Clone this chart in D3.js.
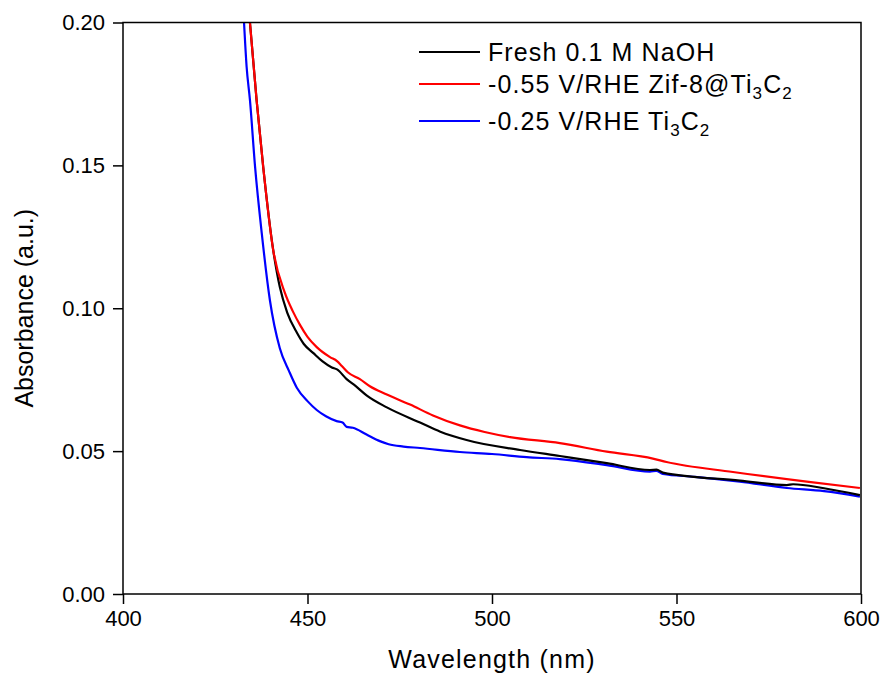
<!DOCTYPE html>
<html>
<head>
    <meta charset="utf-8">
    <style>
        body { margin: 0; background: white; }
        svg { font-family: 'Liberation Sans', Arial, sans-serif; }
        .axis .domain { display: none; }
        .axis .tick line { stroke: #000; stroke-width: 1.5px; }
        .axis .tick text { font-size: 22px; fill: #000; }
    </style>
</head>
<body>
<svg width="884" height="678"></svg>
<script src="https://d3js.org/d3.v7.min.js"></script>
<script>
    // ticks
    let xTicks = [400, 450, 500, 550, 600]
    let yTicks = [0.00, 0.05, 0.10, 0.15, 0.20]

    // Fresh 0.1 M NaOH (black)
    let blackWl = [434.4, 436.2, 438.0, 440.7, 442.5, 444.5, 447.1, 449, 451.6, 454, 456.6, 458.0, 460.6, 463, 466.0, 471.5, 480.5, 486, 493.1, 507.6, 518.4, 531.1, 542.8, 544.6, 546.3, 567.2, 579.9, 581.6, 590, 599.7]
    let blackAbs = [0.200, 0.1729, 0.1494, 0.1204, 0.1074, 0.0985, 0.0915, 0.0875, 0.0843, 0.0815, 0.0793, 0.0786, 0.0752, 0.0728, 0.0695, 0.0653, 0.0600, 0.0568, 0.0539, 0.0504, 0.0483, 0.0458, 0.0434, 0.0435, 0.0425, 0.0397, 0.0381, 0.0384, 0.0370, 0.0346]

    // -0.55 V/RHE Zif-8@Ti3C2 (red)
    let redWl = [434.4, 436.2, 438.0, 440.7, 443.9, 446, 448.0, 450, 452.5, 456.1, 458.0, 459.3, 461, 464.2, 466.9, 471.5, 477.8, 484, 491.3, 498, 504.9, 518.4, 531.1, 543.6, 547.3, 565.3, 585.3, 599.7]
    let redAbs = [0.200, 0.1729, 0.1494, 0.1204, 0.1053, 0.0990, 0.0941, 0.0900, 0.0864, 0.0829, 0.0815, 0.0798, 0.0775, 0.0752, 0.0727, 0.0698, 0.0663, 0.0625, 0.0590, 0.0567, 0.0549, 0.0528, 0.0498, 0.0474, 0.0462, 0.0427, 0.0393, 0.0371]

    // -0.25 V/RHE Ti3C2 (blue)
    let blueWl = [432.8, 433.5, 434.4, 435.8, 437.6, 439.8, 442.5, 445, 447.1, 450, 452.5, 455, 457.9, 459.5, 460.6, 462.3, 466.0, 469.6, 472, 476, 480.5, 491.3, 500, 509.4, 518.4, 531.1, 542.8, 544.5, 546.3, 555, 567.2, 579.9, 590, 599.7]
    let blueAbs = [0.200, 0.1845, 0.1729, 0.1494, 0.1263, 0.1029, 0.0860, 0.0780, 0.0722, 0.0675, 0.0644, 0.0622, 0.0605, 0.0600, 0.0585, 0.0582, 0.0558, 0.0535, 0.0524, 0.0516, 0.0511, 0.0497, 0.0490, 0.0479, 0.0472, 0.0451, 0.0428, 0.0431, 0.0420, 0.0410, 0.0393, 0.0371, 0.0360, 0.0341]

    let seriesNames = ["Fresh 0.1 M NaOH", "-0.55 V/RHE Zif-8@Ti3C2", "-0.25 V/RHE Ti3C2"]
    let seriesColors = ["#000000", "#ff0000", "#0000ff"]

    let series = [
        { name: seriesNames[0], color: seriesColors[0], wl: blackWl, abs: blackAbs },
        { name: seriesNames[1], color: seriesColors[1], wl: redWl, abs: redAbs },
        { name: seriesNames[2], color: seriesColors[2], wl: blueWl, abs: blueAbs }
    ]

    let margin = { top: 22.5, right: 23, bottom: 84, left: 123 }
    let width = 884, height = 678

    let svg = d3.select("svg")

    let x = d3.scaleLinear()
        .domain([400, 600])
        .range([margin.left, width - margin.right])

    let y = d3.scaleLinear()
        .domain([0, 0.20])
        .range([height - margin.bottom, margin.top])

    svg.append("clipPath").attr("id", "clip")
        .append("rect")
        .attr("x", x(400)).attr("y", y(0.20))
        .attr("width", x(600) - x(400)).attr("height", y(0) - y(0.20))

    // axes
    svg.append("g")
        .attr("class", "x axis")
        .attr("transform", `translate(0,${y(0)})`)
        .call(d3.axisBottom(x).tickValues(xTicks).tickSize(10).tickSizeOuter(0).tickPadding(6))

    svg.append("g")
        .attr("class", "y axis")
        .attr("transform", `translate(${x(400)},0)`)
        .call(d3.axisLeft(y).tickValues(yTicks).tickSize(10).tickSizeOuter(0).tickPadding(8).tickFormat(d3.format(".2f")))

    let line = d3.line()
        .x(d => x(d[0]))
        .y(d => y(d[1]))
        .curve(d3.curveMonotoneX)

    // draw blue first so black/red sit on top like the original
    svg.append("g")
        .attr("clip-path", "url(#clip)")
        .selectAll("path")
        .data([series[2], series[0], series[1]])
        .join("path")
        .attr("fill", "none")
        .attr("stroke", d => d.color)
        .attr("stroke-width", 2.2)
        .attr("d", d => line(d3.zip(d.wl, d.abs)))

    // frame
    svg.append("rect")
        .attr("x", x(400)).attr("y", y(0.20))
        .attr("width", x(600) - x(400)).attr("height", y(0) - y(0.20))
        .attr("fill", "none")
        .attr("stroke", "#000")
        .attr("stroke-width", 1.5)

    // axis titles
    svg.append("text").text("Wavelength (nm)")
        .attr("x", (x(400) + x(600)) / 2)
        .attr("y", 668)
        .attr("text-anchor", "middle")
        .attr("font-size", "25px")
        .attr("letter-spacing", "1.2px")

    svg.append("text").text("Absorbance (a.u.)")
        .attr("transform", `translate(33,${(y(0) + y(0.2)) / 2}) rotate(-90)`)
        .attr("text-anchor", "middle")
        .attr("font-size", "25px")

    // legend
    let legendY = [61, 93, 130]
    let legend = svg.append("g")
    series.forEach(function (s, i) {
        legend.append("line")
            .attr("x1", 419).attr("x2", 480)
            .attr("y1", legendY[i] - 9).attr("y2", legendY[i] - 9)
            .attr("stroke", s.color)
            .attr("stroke-width", 2.2)

        let t = legend.append("text")
            .attr("x", 488)
            .attr("y", legendY[i])
            .attr("font-size", "25px")
            .attr("letter-spacing", "1.1px")

        // split Ti3C2 into subscripts
        let m = s.name.match(/^(.*Ti)3C2$/)
        if (m) {
            t.append("tspan").text(m[1])
            t.append("tspan").text("3").attr("font-size", "17px").attr("dy", 6)
            t.append("tspan").text("C").attr("dy", -6)
            t.append("tspan").text("2").attr("font-size", "17px").attr("dy", 6)
        } else {
            t.text(s.name)
        }
    })
</script>
</body>
</html>
